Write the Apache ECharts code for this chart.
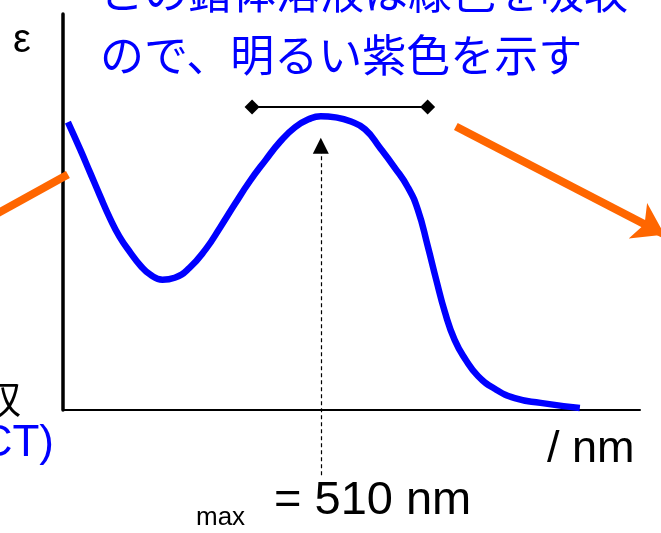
<!DOCTYPE html>
<html>
<head>
<meta charset="utf-8">
<script src="https://cdn.jsdelivr.net/npm/echarts@6/dist/echarts.min.js"></script>
<style>
  html, body { margin: 0; padding: 0; background: #fff; }
  #chart { width: 661px; height: 533px; }
</style>
</head>
<body>
<div id="chart"></div>
<script>
// Absorption spectrum: wavelength (nm) against molar absorptivity (arbitrary units)
const wavelengths = [304, 314, 322, 330, 338, 346, 355, 363, 371, 381, 391, 403, 416, 428, 440, 452, 465,
                     477, 489, 500, 510, 522, 534, 546, 558, 570, 581, 589, 597, 604, 611, 619, 628,
                     638, 652, 668, 689, 721];
const epsilon = [72.7, 65.8, 60.0, 54.2, 48.6, 43.8, 39.7, 36.5, 34.2, 32.9, 33.4, 35.9, 40.5, 46.1, 52.0, 57.7, 63.1,
                 67.8, 71.4, 73.4, 74.2, 73.9, 72.9, 70.9, 66.3, 61.3, 56.2, 50.6, 41.5, 32.9, 24.8, 17.7, 12.7,
                 8.6, 5.3, 3.0, 1.8, 0.5];

// Absorption maximum and the band width bar above the peak
const lambdaMax = 510;
const bandEdges = [454, 597];
const bandLevel = 76.5;
const maxMarker = [-16.5, 66.7];   // dashed pointer from below the axis up to the peak

// Light beams: incoming on the left, transmitted on the right
const incidentBeam = [[240, 48.5], [304, 59.5]];
const transmittedBeam = [[620, 71.6], [790, 44.3]];

// Axis ranges (no tick labels are drawn)
const xRange = [300, 770];
const yRange = [0, 100];

const sans = '"Liberation Sans", Arial, sans-serif';
const jp = '"Noto Sans CJK JP", sans-serif';
const BLUE = '#0000ff';
const ORANGE = '#ff6600';

const chart = echarts.init(document.getElementById('chart'), null, { renderer: 'canvas' });

chart.setOption({
  animation: false,
  backgroundColor: '#fff',
  grid: { left: 63, right: 21, top: 14, bottom: 123 },
  xAxis: {
    type: 'value', min: xRange[0], max: xRange[1],
    axisLine: { show: true, lineStyle: { color: '#000', width: 2 } },
    axisTick: { show: false }, axisLabel: { show: false }, splitLine: { show: false }
  },
  yAxis: {
    type: 'value', min: yRange[0], max: yRange[1],
    axisLine: { show: true, lineStyle: { color: '#000', width: 3.5 } },
    axisTick: { show: false }, axisLabel: { show: false }, splitLine: { show: false }
  },
  series: [
    {
      name: 'spectrum', type: 'line', silent: true, z: 5,
      data: wavelengths.map((w, i) => [w, epsilon[i]]),
      smooth: 0.5, symbol: 'none',
      lineStyle: { color: BLUE, width: 6.5, cap: 'butt' }
    },
    {
      name: 'band', type: 'line', silent: true, z: 4, clip: false,
      data: bandEdges.map(w => [w, bandLevel]),
      symbol: 'diamond', symbolSize: 15,
      itemStyle: { color: '#000', borderWidth: 0 },
      lineStyle: { color: '#000', width: 2 }
    },
    {
      name: 'lambda max', type: 'lines', coordinateSystem: 'cartesian2d', silent: true, clip: false, z: 3,
      symbol: ['none', 'triangle'], symbolSize: 16,
      lineStyle: { color: '#000', width: 1.2, type: [4, 3], opacity: 1 },
      data: [{ coords: [[lambdaMax, maxMarker[0]], [lambdaMax, maxMarker[1]]] }]
    },
    {
      name: 'incident', type: 'lines', coordinateSystem: 'cartesian2d', silent: true, clip: false, z: 3,
      symbol: ['none', 'none'],
      lineStyle: { color: ORANGE, width: 8, opacity: 1, cap: 'butt' },
      data: [{ coords: incidentBeam }]
    },
    {
      name: 'transmitted', type: 'lines', coordinateSystem: 'cartesian2d', silent: true, clip: false, z: 3,
      symbol: ['none', 'arrow'], symbolSize: 30,
      lineStyle: { color: ORANGE, width: 8, opacity: 1, cap: 'butt' },
      data: [{ coords: transmittedBeam }]
    }
  ],
  graphic: [
    { type: 'text', x: 13, y: 41, silent: true,
      style: { text: 'ε', fontSize: 40, fontFamily: sans, fill: '#000', align: 'left', verticalAlign: 'middle' } },
    { type: 'text', x: 100, y: -8, silent: true,
      style: { text: 'この錯体溶液は緑色を吸収', fontSize: 44, fontFamily: jp, fill: BLUE, align: 'left', verticalAlign: 'middle' } },
    { type: 'text', x: 100, y: 55, silent: true,
      style: { text: 'ので、明るい紫色を示す', fontSize: 44, fontFamily: jp, fill: BLUE, align: 'left', verticalAlign: 'middle' } },
    { type: 'text', x: 21, y: 399, silent: true,
      style: { text: '吸収', fontSize: 38, fontFamily: jp, fill: '#000', align: 'right', verticalAlign: 'middle' } },
    { type: 'text', x: 54, y: 444, silent: true,
      style: { text: 'CT)', fontSize: 44, fontFamily: sans, fill: BLUE, align: 'right', verticalAlign: 'middle' } },
    { type: 'text', x: 547, y: 450, silent: true,
      style: { text: '/ nm', fontSize: 45, fontFamily: sans, fill: '#000', align: 'left', verticalAlign: 'middle' } },
    { type: 'text', x: 196, y: 518, silent: true,
      style: { text: 'max', fontSize: 26, fontFamily: sans, fill: '#000', align: 'left', verticalAlign: 'middle' } },
    { type: 'text', x: 274, y: 501, silent: true,
      style: { text: '= ' + lambdaMax + ' nm', fontSize: 47, fontFamily: sans, fill: '#000', align: 'left', verticalAlign: 'middle' } }
  ]
});
</script>
</body>
</html>
